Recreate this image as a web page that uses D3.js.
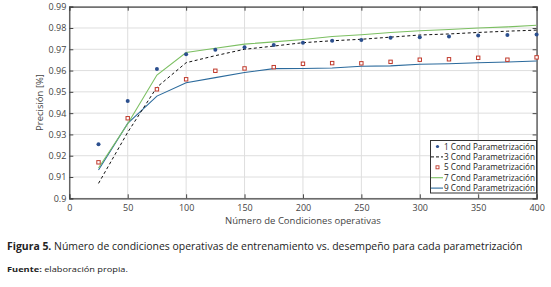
<!DOCTYPE html>
<html><head><meta charset="utf-8">
<script src="https://cdn.jsdelivr.net/npm/d3@7"></script>
<style>body{margin:0;background:#fff}svg{display:block}</style>
</head><body>
<script>
const xs = [25,50,75,100,125,150,175,200,225,250,275,300,325,350,375,400];
const s1 = [0.9254,0.9457,0.9607,0.9677,0.9698,0.9709,0.9720,0.9731,0.9740,0.9743,0.9754,0.9757,0.9760,0.9765,0.9767,0.9770];
const s3 = [0.9070,0.9310,0.9522,0.9637,0.9670,0.9700,0.9715,0.9731,0.9740,0.9747,0.9757,0.9767,0.9772,0.9779,0.9785,0.9790];
const s5 = [0.9169,0.9376,0.9512,0.9559,0.9599,0.9610,0.9616,0.9632,0.9635,0.9634,0.9641,0.9651,0.9653,0.9660,0.9651,0.9662];
const s7 = [0.9142,0.9350,0.9579,0.9685,0.9705,0.9724,0.9735,0.9746,0.9760,0.9768,0.9779,0.9787,0.9793,0.9800,0.9805,0.9813];
const s9 = [0.9133,0.9352,0.9480,0.9543,0.9567,0.9591,0.9609,0.9610,0.9612,0.9620,0.9622,0.9630,0.9632,0.9637,0.9640,0.9645];
const xTicks = [0,50,100,150,200,250,300,350,400];
const yTicks = [0.9,0.91,0.92,0.93,0.94,0.95,0.96,0.97,0.98,0.99];
const legendLabels = ["1 Cond Parametrización","3 Cond Parametrización","5 Cond Parametrización","7 Cond Parametrización","9 Cond Parametrización"];

const W=551,H=287;
const svg=d3.select("body").append("svg").attr("width",W).attr("height",H);
const font="'Open Sans', sans-serif";
const x=d3.scaleLinear().domain([0,400]).range([69.3,536.6]);
const y=d3.scaleLinear().domain([0.9,0.99]).range([198.3,6.7]);
const axisCol="#444", textCol="#444";

// grid
svg.append("g").selectAll("line.v").data(xTicks).join("line")
 .attr("x1",d=>x(d)).attr("x2",d=>x(d)).attr("y1",y(0.9)).attr("y2",y(0.99))
 .attr("stroke","#dedede").attr("stroke-width",1);
svg.append("g").selectAll("line.h").data(yTicks).join("line")
 .attr("x1",x(0)).attr("x2",x(400)).attr("y1",d=>y(d)).attr("y2",d=>y(d))
 .attr("stroke","#dedede").attr("stroke-width",1);

// axes
const gx=svg.append("g").attr("transform",`translate(0,${y(0.9)})`)
 .call(d3.axisBottom(x).tickValues(xTicks).tickSize(-4).tickPadding(6).tickFormat(d3.format("d")));
const gy=svg.append("g").attr("transform",`translate(${x(0)},0)`)
 .call(d3.axisLeft(y).tickValues(yTicks).tickSize(-4).tickPadding(3).tickFormat(d=>d===0.9?"0.9":d3.format(".2f")(d)));
const gt=svg.append("g").attr("transform",`translate(0,${y(0.99)})`)
 .call(d3.axisTop(x).tickValues(xTicks).tickSize(-4).tickFormat(""));
const gr=svg.append("g").attr("transform",`translate(${x(400)},0)`)
 .call(d3.axisRight(y).tickValues(yTicks).tickSize(-4).tickFormat(""));
[gx,gy,gt,gr].forEach(g=>{
  g.selectAll("path").attr("stroke",axisCol).attr("stroke-width",1.2);
  g.selectAll("line").attr("stroke",axisCol);
  g.selectAll("text").attr("fill",textCol).attr("font-family",font).attr("font-size",9);
});

const line=d3.line().x((d,i)=>x(xs[i])).y(d=>y(d));
svg.append("path").datum(s9).attr("d",line).attr("fill","none").attr("stroke","#2b6a9c").attr("stroke-width",1.1);
svg.append("path").datum(s7).attr("d",line).attr("fill","none").attr("stroke","#7cbf62").attr("stroke-width",1.1);
svg.append("path").datum(s3).attr("d",line).attr("fill","none").attr("stroke","#111").attr("stroke-width",1).attr("stroke-dasharray","3,2.5");
svg.append("g").selectAll("rect").data(s5).join("rect")
 .attr("x",(d,i)=>x(xs[i])-1.7).attr("y",d=>y(d)-1.7).attr("width",3.4).attr("height",3.4)
 .attr("fill","#fff").attr("stroke","#c0392b").attr("stroke-width",1);
svg.append("g").selectAll("circle").data(s1).join("circle")
 .attr("cx",(d,i)=>x(xs[i])).attr("cy",d=>y(d)).attr("r",2)
 .attr("fill","#2b4f8e");

// legend
const lg=svg.append("g");
lg.append("rect").attr("x",430.5).attr("y",140.5).attr("width",106).attr("height",52.5)
 .attr("fill","#fff").attr("stroke","#333").attr("stroke-width",1);
legendLabels.forEach((t,i)=>{
  const cy=146.5+i*10.4;
  const g=lg.append("g");
  if(i===0) g.append("circle").attr("cx",437.5).attr("cy",cy).attr("r",1.6).attr("fill","#2b4f8e");
  if(i===1) g.append("line").attr("x1",431).attr("x2",443).attr("y1",cy).attr("y2",cy).attr("stroke","#111").attr("stroke-dasharray","3,2");
  if(i===2) g.append("rect").attr("x",436).attr("y",cy-1.5).attr("width",3).attr("height",3).attr("fill","#fff").attr("stroke","#c0392b").attr("stroke-width",0.9);
  if(i===3) g.append("line").attr("x1",431).attr("x2",443).attr("y1",cy).attr("y2",cy).attr("stroke","#7cbf62").attr("stroke-width",1.1);
  if(i===4) g.append("line").attr("x1",431).attr("x2",443).attr("y1",cy).attr("y2",cy).attr("stroke","#2b6a9c").attr("stroke-width",1.1);
  g.append("text").attr("x",444).attr("y",cy+3).attr("font-family",font).attr("font-size",8.3).attr("fill","#222")
   .attr("textLength",91).attr("lengthAdjust","spacingAndGlyphs").text(t);
});

// labels
svg.append("text").attr("x",(x(0)+x(400))/2).attr("y",224).attr("text-anchor","middle")
 .attr("font-family",font).attr("font-size",9.5).attr("fill",textCol).text("Número de Condiciones operativas");
svg.append("text").attr("transform",`translate(43,${(y(0.9)+y(0.99))/2}) rotate(-90)`).attr("text-anchor","middle")
 .attr("font-family",font).attr("font-size",9.5).attr("fill",textCol).text("Precisión [%]");

// caption (scaled horizontally to match the reference width)
function fitText(g, targetW){
  const w = g.node().getBBox().width;
  return targetW / w;
}
const capG=svg.append("g");
const cap=capG.append("text").attr("x",0).attr("y",0).attr("font-family",font).attr("font-size",10.8).attr("fill","#222");
cap.append("tspan").attr("font-weight","bold").text("Figura 5.");
cap.append("tspan").text(" Número de condiciones operativas de entrenamiento vs. desempeño para cada parametrización");
capG.attr("transform",`translate(7,250.3) scale(${fitText(cap,516)},1)`);
const srcG=svg.append("g");
const src=srcG.append("text").attr("x",0).attr("y",0).attr("font-family",font).attr("font-size",7.6).attr("fill","#222");
src.append("tspan").attr("font-weight","bold").text("Fuente:");
src.append("tspan").text(" elaboración propia.");
srcG.attr("transform",`translate(7,272) scale(${fitText(src,121)},1)`);
</script>
</body></html>
